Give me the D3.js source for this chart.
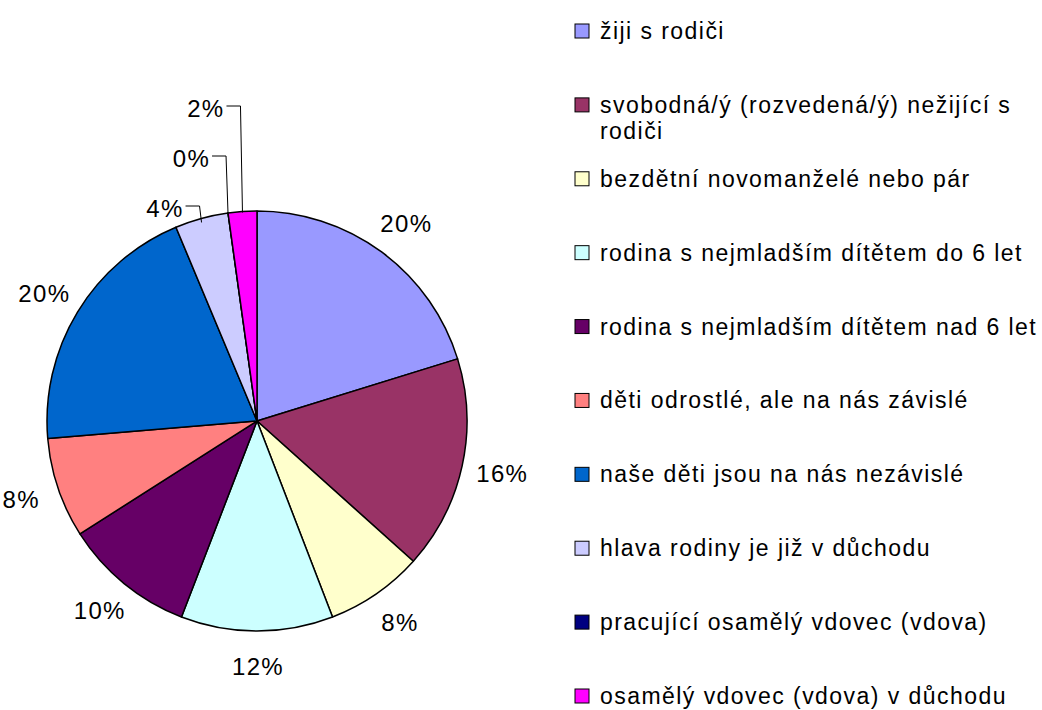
<!DOCTYPE html>
<html>
<head>
<meta charset="utf-8">
<script src="https://cdn.jsdelivr.net/npm/d3@7"></script>
<style>
  body { margin: 0; background: #fff; }
  text { font-family: "Liberation Sans", Arial, sans-serif; fill: #000; }
</style>
</head>
<body>
<div id="chart"></div>
<script>
// categories and values (percent shares)
var categories = [
  "žiji s rodiči",
  "svobodná/ý (rozvedená/ý) nežijící s rodiči",
  "bezdětní novomanželé nebo pár",
  "rodina s nejmladším dítětem do 6 let",
  "rodina s nejmladším dítětem nad 6 let",
  "děti odrostlé, ale na nás závislé",
  "naše děti jsou na nás nezávislé",
  "hlava rodiny je již v důchodu",
  "pracující osamělý vdovec (vdova)",
  "osamělý vdovec (vdova) v důchodu"
];
var values = [20.2, 16.4, 7.5, 11.7, 10.1, 7.7, 20.0, 4.1, 0.0, 2.2];
var colors = ["#9999FF", "#993366", "#FFFFCC", "#CCFFFF", "#660066",
              "#FF8080", "#0066CC", "#CCCCFF", "#000080", "#FF00FF"];

var svgWidth = 1042;
var svgHeight = 710;

var cx = 257, cy = 421, radius = 210;

var svg = d3.select("#chart")
  .append("svg")
  .attr("width", svgWidth)
  .attr("height", svgHeight);

var data = categories.map(function(c, i) {
  return { name: c, value: values[i], color: colors[i], index: i };
});
var total = d3.sum(values);

var pie = d3.pie()
  .sort(null)
  .value(d => d.value);

var arc = d3.arc()
  .innerRadius(0)
  .outerRadius(radius);

var arcs = pie(data);

var pieGroup = svg.append("g")
  .attr("transform", `translate(${cx}, ${cy})`);

pieGroup.selectAll("path")
  .data(arcs)
  .enter()
  .append("path")
  .attr("d", arc)
  .attr("fill", d => d.data.color)
  .attr("stroke", "#000")
  .attr("stroke-width", 1.5)
  .attr("stroke-linejoin", "round");

var pct = d => Math.round(d.data.value / total * 100) + "%";
var mid = d => (d.startAngle + d.endAngle) / 2;

// big slices: labels just outside the rim
var big = arcs.filter(d => d.data.value >= 5);
pieGroup.selectAll("text.big")
  .data(big)
  .enter()
  .append("text")
  .attr("class", "big")
  .attr("x", d => Math.sin(mid(d)) * 250 + 1)
  .attr("y", d => -Math.cos(mid(d)) * 245)
  .attr("text-anchor", "middle")
  .attr("dominant-baseline", "central")
  .attr("font-size", "24px")
  .attr("letter-spacing", "1.3px")
  .text(pct);

// small slices: labels stacked above the pie with leader lines
var small = arcs.filter(d => d.data.value < 5);
small.forEach(function(d, k) {
  var a = mid(d);
  var px = Math.sin(a) * radius, py = -Math.cos(a) * radius;
  var ly = -radius - 5 - k * 50;
  var elbowX = px - 2;
  var textX = elbowX - 16;
  pieGroup.append("path")
    .attr("d", `M${textX + 2},${ly} H${elbowX} L${px},${py + (k === 0 ? 4 : 1)}`)
    .attr("fill", "none")
    .attr("stroke", "#000")
    .attr("stroke-width", 1);
  pieGroup.append("text")
    .attr("x", textX)
    .attr("y", ly + 2)
    .attr("text-anchor", "end")
    .attr("dominant-baseline", "central")
    .attr("font-size", "24px")
    .attr("letter-spacing", "1.3px")
    .text(pct(d));
});

// legend
var legendY = d3.scalePoint()
  .domain(categories)
  .range([31, 696]);

var legend = svg.append("g");
var maxW = 440;

data.forEach(function(d) {
  var y = legendY(d.name);
  legend.append("rect")
    .attr("x", 575)
    .attr("y", y - 7)
    .attr("width", 14)
    .attr("height", 14)
    .attr("fill", d.color)
    .attr("stroke", "#000")
    .attr("stroke-width", 1);

  var t = legend.append("text")
    .attr("x", 600)
    .attr("y", y)
    .attr("dominant-baseline", "central")
    .attr("font-size", "23px")
    .attr("letter-spacing", "1.45px");
  var words = d.name.split(" ");
  var line = [];
  var lineNo = 0;
  var tspan = t.append("tspan").attr("x", 600).attr("y", y);
  words.forEach(function(w) {
    line.push(w);
    tspan.text(line.join(" "));
    if (tspan.node().getComputedTextLength() > maxW && line.length > 1) {
      line.pop();
      tspan.text(line.join(" "));
      line = [w];
      lineNo++;
      tspan = t.append("tspan").attr("x", 600).attr("y", y + lineNo * 26).text(w);
    }
  });
});
</script>
</body>
</html>
